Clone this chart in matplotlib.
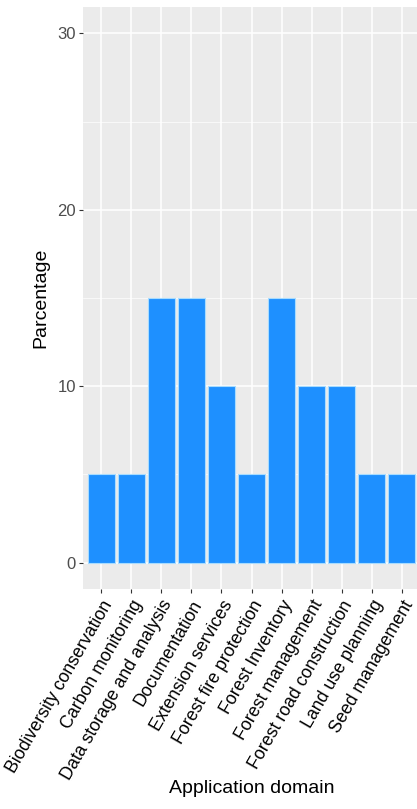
import matplotlib
matplotlib.use("Agg")
import matplotlib.pyplot as plt
import numpy as np

categories = ["Biodiversity conservation", "Carbon monitoring", "Data storage and analysis",
              "Documentation", "Extension services", "Forest fire protection",
              "Forest Inventory", "Forest management", "Forest road construction",
              "Land use planning", "Seed management"]
percentages = [5, 5, 15, 15, 10, 5, 15, 10, 10, 5, 5]
yticks = [0, 10, 20, 30]

plt.rcParams['font.family'] = ['Liberation Sans', 'DejaVu Sans']

fig = plt.figure(figsize=(4.17, 8.09), dpi=100)
ax = fig.add_axes([83/417, 1 - 589/809, (420 - 83)/417, (589 - 7)/809])
ax.set_facecolor('#EBEBEB')

x = np.arange(len(categories))
ax.bar(x, percentages, width=0.9, color='#1E90FF', edgecolor='#A8DCFF',
       linewidth=0.8, zorder=3)

ax.set_xlim(-0.6, len(categories) - 0.4)
ax.set_ylim(-1.5, 31.5)
ax.set_yticks(yticks)
ax.set_yticks([5, 15, 25], minor=True)
ax.set_xticks(x)
ax.set_xticklabels(categories, rotation=60, ha='right', va='top',
                   rotation_mode='anchor', fontsize=12.8, color='black')
ax.tick_params(axis='y', labelsize=12, labelcolor='#4D4D4D', color='#333333',
               length=3, width=0.8, pad=2)
ax.tick_params(axis='y', which='minor', length=0)
ax.tick_params(axis='x', color='#333333', length=3, width=0.8, pad=3)

ax.grid(True, which='major', color='white', linewidth=1.1, zorder=0)
ax.grid(True, which='minor', axis='y', color='white', linewidth=0.5, zorder=0)
ax.set_axisbelow(True)
for s in ax.spines.values():
    s.set_visible(False)

ax.set_ylabel("Parcentage", fontsize=14, color='black', labelpad=6)
ax.set_xlabel("Application domain", fontsize=14, color='black')
ax.xaxis.set_label_coords((252 - 83)/337, -(780 - 589)/582)

fig.savefig("out.png", dpi=100)
